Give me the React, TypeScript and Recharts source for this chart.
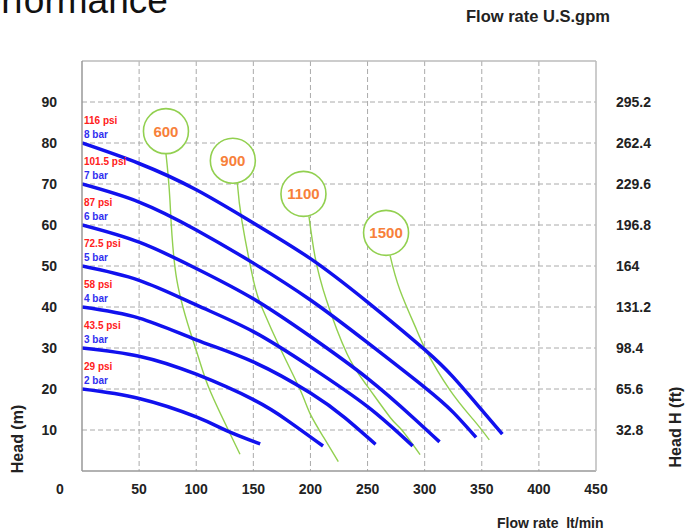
import React from "react";
import { LineChart, Line, XAxis, YAxis, CartesianGrid, ReferenceDot } from "recharts";

// axis ticks
const flowTicks = [0, 50, 100, 150, 200, 250, 300, 350, 400, 450];
const gpmTicks = [50, 100, 150, 200, 250, 300, 350, 400, 450];
const gpmLabels = ["13.21", "26.42", "39.62", "52.83", "66.04", "79.25", "92.46", "105.67", "118.88"];
const headTicks = [10, 20, 30, 40, 50, 60, 70, 80, 90];
const feetTicks = [32.8, 65.6, 98.4, 131.2, 164, 196.8, 229.6, 262.4, 295.2];

// pump curves, [flow lt/min, head m]
const bar8 = [[0, 80], [50, 75], [100, 68.6], [150, 60.5], [200, 51.8], [250, 41.2], [300, 29.6], [325, 22.9], [345, 16.5], [368, 9]];
const bar7 = [[0, 70], [50, 65.6], [100, 58.8], [150, 50.7], [200, 41.7], [250, 31.3], [300, 20.4], [325, 14.3], [345, 8.2]];
const bar6 = [[0, 60], [50, 55.8], [100, 49.4], [150, 42], [200, 32.8], [250, 22.6], [290, 13], [313, 7.1]];
const bar5 = [[0, 50], [50, 46.5], [100, 40.5], [150, 34], [200, 25.4], [250, 15.7], [289.5, 6.1]];
const bar4 = [[0, 40], [50, 37.3], [100, 32], [150, 26.6], [200, 19], [230, 13], [257, 6.5]];
const bar3 = [[0, 30], [50, 28], [100, 23.6], [150, 17.4], [180, 12.3], [211, 6.1]];
const bar2 = [[0, 20], [50, 17.7], [100, 13.2], [127, 9.8], [156, 6.6]];

const pressureCurves = [
  { psi: "116 psi", bar: "8 bar", points: bar8 },
  { psi: "101.5 psi", bar: "7 bar", points: bar7 },
  { psi: "87 psi", bar: "6 bar", points: bar6 },
  { psi: "72.5 psi", bar: "5 bar", points: bar5 },
  { psi: "58 psi", bar: "4 bar", points: bar4 },
  { psi: "43.5 psi", bar: "3 bar", points: bar3 },
  { psi: "29 psi", bar: "2 bar", points: bar2 },
];

// green curves
const speed600 = [[73.5, 77.4], [77, 66], [83, 46.6], [99, 30.3], [110.6, 20.6], [126.7, 10.8], [138.3, 4.1]];
const speed900 = [[136, 70.2], [140, 61], [150, 46.6], [157.3, 40], [173.4, 30], [191, 19.8], [200, 13.8], [212, 8], [224.4, 2.3]];
const speed1100 = [[198.7, 62.1], [204, 52.3], [214, 41.7], [232, 28.6], [249, 21], [270, 13], [280, 10], [296, 4]];
const speed1500 = [[269.7, 52.6], [278.4, 44.1], [293, 34.4], [301, 29.5], [322, 19.8], [343, 12.4], [356.6, 7.6]];

const speedCurves = [
  { name: "600", points: speed600 },
  { name: "900", points: speed900 },
  { name: "1100", points: speed1100 },
  { name: "1500", points: speed1500 },
];

// circle sits a little left of where its line leaves it
const circleShift: Record<string, number> = { "600": 0, "900": -4.5, "1100": -5.5, "1500": -4 };

const BLUE = "#1111ee";
const GREEN = "#92d050";
const FONT = "'Liberation Sans', Arial, sans-serif";
const R = 22.5;

const toRows = (pts: number[][]) => pts.map(([q, h]) => ({ q, h }));

const LeftTick = ({ x, y, payload }: any) => (
  <text x={x} y={y} textAnchor="end" dominantBaseline="central" fontSize={14} fontWeight="bold" fill="#222" fontFamily={FONT}>
    {payload.value}
  </text>
);

const RightTick = ({ x, y, payload }: any) => (
  <text x={x} y={y} textAnchor="start" dominantBaseline="central" fontSize={14} fontWeight="bold" fill="#222" fontFamily={FONT}>
    {payload.value}
  </text>
);

const BottomTick = ({ x, y, payload }: any) => (
  <text x={payload.value === 0 ? x - 22 : x} y={y} dy="0.71em" textAnchor="middle" fontSize={14} fontWeight="bold" fill="#222" fontFamily={FONT}>
    {payload.value}
  </text>
);

const TopTick = ({ x, y, payload }: any) => (
  <text x={x} y={y} textAnchor="middle" fontSize={13} fontWeight="bold" fill="#222" fontFamily={FONT}>
    {gpmLabels[gpmTicks.indexOf(payload.value)]}
  </text>
);

export default function App() {
  return (
    <div style={{ position: "absolute", left: 0, top: 0, width: 690, height: 530, background: "#fff" }}>
      <LineChart width={690} height={530} margin={{ top: 0, right: 0, bottom: 0, left: 0 }}>
        <CartesianGrid
          stroke="#aaa"
          strokeDasharray="5 3"
          verticalValues={[50, 100, 150, 200, 250, 300, 350, 400]}
          horizontalValues={headTicks}
        />
        <XAxis
          dataKey="q"
          type="number"
          domain={[0, 450]}
          ticks={flowTicks}
          height={59}
          tickLine={false}
          tickSize={0}
          tickMargin={13}
          axisLine={{ stroke: "#999", strokeWidth: 1.5 }}
          tick={<BottomTick />}
          allowDataOverflow
        />
        <XAxis
          xAxisId="top"
          orientation="top"
          type="number"
          domain={[0, 450]}
          ticks={gpmTicks}
          height={61}
          tickLine={false}
          tickSize={0}
          tickMargin={9}
          axisLine={{ stroke: "#bbb", strokeWidth: 1.5 }}
          tick={<TopTick />}
          allowDataOverflow
        />
        <YAxis
          type="number"
          domain={[0, 100]}
          ticks={headTicks}
          width={82}
          tickLine={false}
          tickSize={0}
          tickMargin={25}
          axisLine={{ stroke: "#999", strokeWidth: 1.5 }}
          tick={<LeftTick />}
          allowDataOverflow
        />
        <YAxis
          yAxisId="ft"
          orientation="right"
          type="number"
          domain={[0, 328]}
          ticks={feetTicks}
          width={94}
          tickLine={false}
          tickSize={0}
          tickMargin={20}
          axisLine={{ stroke: "#bbb", strokeWidth: 1.5 }}
          tick={<RightTick />}
          allowDataOverflow
        />
        {speedCurves.map((s) => (
          <Line
            key={"s" + s.name}
            data={toRows(s.points)}
            dataKey="h"
            type="natural"
            stroke={GREEN}
            strokeWidth={1.4}
            dot={false}
            activeDot={false}
            isAnimationActive={false}
          />
        ))}
        {pressureCurves.map((c) => (
          <Line
            key={c.bar}
            data={toRows(c.points)}
            dataKey="h"
            type="natural"
            stroke={BLUE}
            strokeWidth={3.5}
            dot={false}
            activeDot={false}
            isAnimationActive={false}
            label={(p: any) =>
              p.index === 0 ? (
                <g key={c.bar + "lbl"} fontFamily={FONT} fontWeight="bold" fontSize={10}>
                  <text x={p.x + 2} y={p.y - 19} fill="#ff2020">{c.psi}</text>
                  <text x={p.x + 2} y={p.y - 5.5} fill="#3030f0">{c.bar}</text>
                </g>
              ) : (
                <g key={c.bar + "lbl" + p.index} />
              )
            }
          />
        ))}
        {speedCurves.map((s) => (
          <ReferenceDot
            key={"d" + s.name}
            x={s.points[0][0]}
            y={s.points[0][1]}
            r={R}
            shape={(p: any) => (
              <g>
                <circle cx={p.cx + circleShift[s.name]} cy={p.cy - R} r={R} fill="#fff" stroke={GREEN} strokeWidth={1.6} />
                <text
                  x={p.cx + circleShift[s.name]}
                  y={p.cy - R}
                  textAnchor="middle"
                  dominantBaseline="central"
                  fontSize={15}
                  fontWeight="bold"
                  fill="#f7803a"
                  fontFamily={FONT}
                >
                  {s.name}
                </text>
              </g>
            )}
          />
        ))}
      </LineChart>
      <svg width={690} height={530} style={{ position: "absolute", left: 0, top: 0, pointerEvents: "none" }} fontFamily={FONT}>
        <text x={-44} y={13} fontSize={37} fill="#111">Performance</text>
        <text x={466} y={22} fontSize={16.5} fontWeight="bold" fill="#222">Flow rate U.S.gpm</text>
        <text x={497} y={528} fontSize={14} fontWeight="bold" fill="#222" style={{ whiteSpace: "pre" }}>{"Flow rate  lt/min"}</text>
        <text x={17} y={439} fontSize={16} fontWeight="bold" fill="#222" textAnchor="middle" dominantBaseline="central" transform="rotate(-90 17 439)">Head (m)</text>
        <text x={675} y={427} fontSize={16} fontWeight="bold" fill="#222" textAnchor="middle" dominantBaseline="central" transform="rotate(-90 675 427)">Head H (ft)</text>
      </svg>
    </div>
  );
}
